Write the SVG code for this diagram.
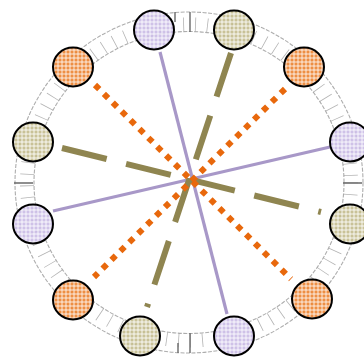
<svg xmlns="http://www.w3.org/2000/svg" width="364" height="358" viewBox="0 0 364 358">
<defs>
<pattern id="pPurple" width="4" height="4" patternUnits="userSpaceOnUse"><rect width="4" height="4" fill="#cbbde6"/><path d="M0 2H4M2 0V4" stroke="#ffffff" stroke-width="1" stroke-opacity="0.85"/></pattern>
<pattern id="pOlive" width="4" height="4" patternUnits="userSpaceOnUse"><rect width="4" height="4" fill="#c4bd8f"/><path d="M0 2H4M2 0V4" stroke="#ffffff" stroke-width="1" stroke-opacity="0.85"/></pattern>
<pattern id="pOrange" width="4" height="4" patternUnits="userSpaceOnUse"><rect width="4" height="4" fill="#ed8534"/><path d="M0 2H4M2 0V4" stroke="#ffffff" stroke-width="1" stroke-opacity="0.8"/></pattern>
</defs>
<style>
.ringline{fill:none;stroke:#8a8a8a;stroke-width:1.1;stroke-dasharray:4 1.5;opacity:0.7}
.ticks{fill:none;stroke:#9a9a9a;stroke-width:14;stroke-dasharray:0.8 11.22;opacity:0.75}
.major{stroke:#6a6a6a;stroke-width:1.4;fill:none}
.node{stroke:#000;stroke-width:2;fill-opacity:0.92}
.purple{fill:url(#pPurple)}
.olive{fill:url(#pOlive)}
.orange{fill:url(#pOrange)}
.cp{stroke:#a898c8;stroke-width:3.2;fill:none}
.co{stroke:#8f8550;stroke-width:6;fill:none;stroke-dasharray:46 20}
.cr{stroke:#e8680c;stroke-width:6;fill:none;stroke-dasharray:6 6.5}
</style>
<g id="ring">
<ellipse class="ringline" cx="189" cy="182.5" rx="174" ry="170.5"/>
<ellipse class="ringline" cx="189" cy="182.5" rx="155" ry="151"/>
<circle class="ticks" cx="0" cy="0" r="162" transform="translate(189,182.5) scale(1,0.977)"/>
<path class="major" d="M190 12V32M175 12V22M14 183H33M343 183H362M190 333V353M178 343V353"/>
</g>
<g id="connectors">
<line class="cp" x1="160" y1="52" x2="227" y2="314"/>
<line class="cp" x1="53" y1="211" x2="330" y2="147"/>
<line class="co" x1="231" y1="53" x2="147" y2="307"/>
<line class="co" x1="62" y1="148" x2="321" y2="212"/>
<line class="cr" x1="95" y1="85" x2="291" y2="279"/>
<line class="cr" x1="285" y1="89" x2="94" y2="277"/>
</g>
<g id="n1"><ellipse class="node purple" cx="154" cy="30" rx="20" ry="19.5"/></g>
<g id="n2"><ellipse class="node olive" cx="234" cy="30" rx="20" ry="19.5"/></g>
<g id="n3"><ellipse class="node orange" cx="304" cy="67" rx="20" ry="19.5"/></g>
<g id="n4"><ellipse class="node purple" cx="350" cy="142" rx="20" ry="19.5"/></g>
<g id="n5"><ellipse class="node olive" cx="350" cy="224" rx="20" ry="19.5"/></g>
<g id="n6"><ellipse class="node orange" cx="312" cy="299" rx="20" ry="19.5"/></g>
<g id="n7"><ellipse class="node purple" cx="234" cy="336" rx="20" ry="19.5"/></g>
<g id="n8"><ellipse class="node olive" cx="140" cy="336" rx="20" ry="19.5"/></g>
<g id="n9"><ellipse class="node orange" cx="73" cy="300" rx="20" ry="19.5"/></g>
<g id="n10"><ellipse class="node purple" cx="33" cy="224" rx="20" ry="19.5"/></g>
<g id="n11"><ellipse class="node olive" cx="33" cy="142" rx="20" ry="19.5"/></g>
<g id="n12"><ellipse class="node orange" cx="73" cy="67" rx="20" ry="19.5"/></g>
</svg>
